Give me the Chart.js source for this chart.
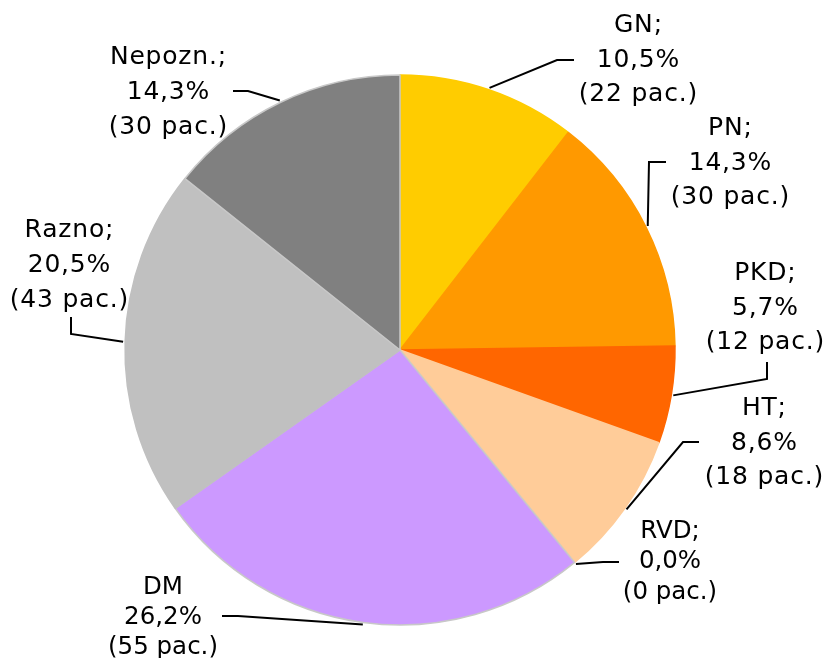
<!DOCTYPE html>
<html>
<head>
<meta charset="utf-8">
<script src="https://cdn.jsdelivr.net/npm/chart.js@4"></script>
<style>
    body { margin: 0; background: #fff; }
    canvas { display: block; }
</style>
</head>
<body>
<canvas id="chart" width="827" height="658"></canvas>
<script>
// patients per diagnosis group
const categories = ["GN", "PN", "PKD", "HT", "RVD", "DM", "Razno", "Nepozn."];
const patients = [22, 30, 12, 18, 0, 55, 43, 30];
const colors = ["#FFCC00", "#FF9900", "#FF6600", "#FFCC99", "#C8C8C8", "#CC99FF", "#C0C0C0", "#808080"];
const borders = ["#FFCC00", "#FF9900", "#FF6600", "#FFCC99", "#C8C8C8", "#C8C8C8", "#C0C0C0", "#C8C8C8"];
// first line of each label (DM has no semicolon)
const titles = ["GN;", "PN;", "PKD;", "HT;", "RVD;", "DM", "Razno;", "Nepozn.;"];

// label placement: text centre, line gap, font size, leader bend points
const labelLayout = [
    { x: 638, y: 60, gap: 34.5, size: 25, spacing: 0.8, path: [[557, 60], [574, 60]] },
    { x: 730, y: 163, gap: 34.5, size: 25, spacing: 0.8, path: [[649, 162], [666, 162]] },
    { x: 765, y: 308, gap: 34.5, size: 25, spacing: 0.8, path: [[767, 379], [767, 362]] },
    { x: 764, y: 443, gap: 34.5, size: 25, spacing: 0.8, path: [[683, 442], [699, 442]] },
    { x: 670, y: 562, gap: 30.5, size: 24.5, spacing: 0, path: [[603, 562], [619, 562]] },
    { x: 163, y: 618, gap: 30, size: 24.5, spacing: 0, path: [[238, 616], [222, 616]] },
    { x: 69, y: 265, gap: 35, size: 25, spacing: 0.8, path: [[71, 334], [71, 317]] },
    { x: 168, y: 92, gap: 35, size: 25, spacing: 0.8, path: [[248, 91], [233, 91]] }
];

const total = patients.reduce((a, b) => a + b, 0);

function pct(v) {
    return (v / total * 100).toFixed(1).replace(".", ",") + "%";
}

const leaderLabels = {
    id: "leaderLabels",
    afterDatasetsDraw(chart) {
        const ctx = chart.ctx;
        const arcs = chart.getDatasetMeta(0).data;
        ctx.save();
        arcs.forEach((arc, i) => {
            const lay = labelLayout[i];
            const mid = (arc.startAngle + arc.endAngle) / 2;
            const r = arc.outerRadius + 2;
            const ax = arc.x + Math.cos(mid) * r;
            const ay = arc.y + Math.sin(mid) * r;

            ctx.strokeStyle = "#000";
            ctx.lineWidth = 2;
            ctx.beginPath();
            ctx.moveTo(ax, ay);
            lay.path.forEach(p => ctx.lineTo(p[0], p[1]));
            ctx.stroke();

            const lines = [titles[i], pct(patients[i]), "(" + patients[i] + " pac.)"];
            ctx.font = lay.size + "px 'DejaVu Sans', Verdana, sans-serif";
            ctx.letterSpacing = lay.spacing + "px";
            ctx.fillStyle = "#000";
            ctx.textAlign = "center";
            ctx.textBaseline = "middle";
            lines.forEach((t, k) => {
                ctx.fillText(t, lay.x + lay.spacing / 2, lay.y + (k - 1) * lay.gap);
            });
        });
        ctx.restore();
    }
};

new Chart(document.getElementById("chart"), {
    type: "pie",
    data: {
        labels: categories,
        datasets: [{
            data: patients,
            backgroundColor: colors,
            borderColor: borders,
            borderWidth: 1.5
        }]
    },
    options: {
        responsive: false,
        animation: false,
        radius: 275,
        layout: { padding: { left: 0, right: 27, top: 42, bottom: 0 } },
        events: [],
        plugins: {
            legend: { display: false },
            tooltip: { enabled: false }
        }
    },
    plugins: [leaderLabels]
});
</script>
</body>
</html>
